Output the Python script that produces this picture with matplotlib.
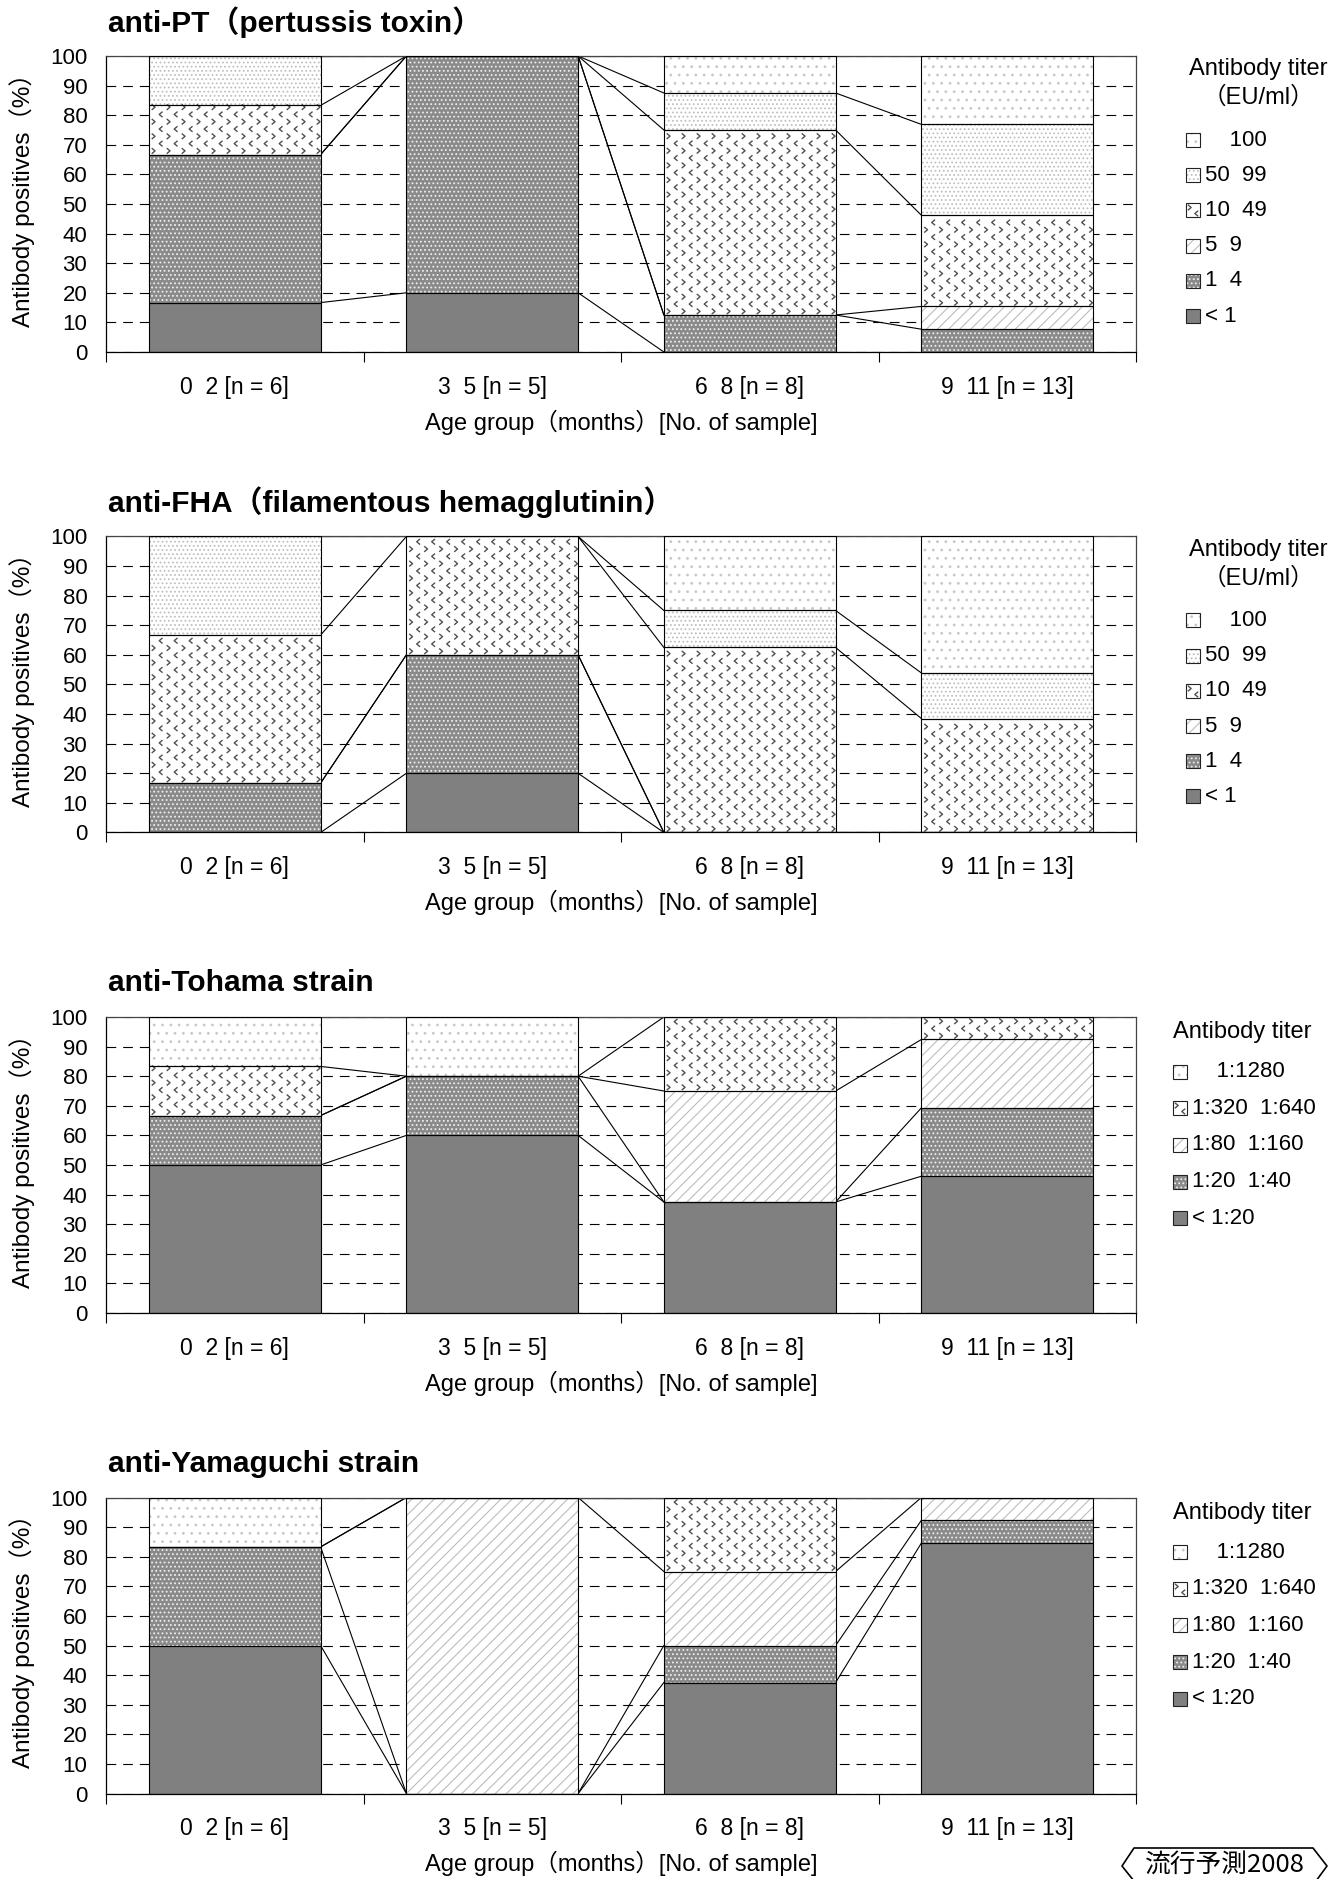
import numpy as np
import matplotlib
matplotlib.use('Agg')
import matplotlib.pyplot as plt
import matplotlib.transforms as mtransforms
from matplotlib.patches import Rectangle
from matplotlib.lines import Line2D
from matplotlib.path import Path

plt.rcParams['font.family'] = ['Liberation Sans', 'Noto Sans CJK JP']
plt.rcParams['hatch.linewidth'] = 0.8
plt.rcParams['lines.scale_dashes'] = False

W, H = 1344, 1879

age_groups = ['0  2 [n = 6]', '3  5 [n = 5]', '6  8 [n = 8]', '9  11 [n = 13]']

titles = ['anti-PT（pertussis toxin）',
          'anti-FHA（filamentous hemagglutinin）',
          'anti-Tohama strain',
          'anti-Yamaguchi strain']

# titer classes, lowest first
eu_levels = ['< 1', '1  4', '5  9', '10  49', '50  99', '    100']
agglutinin_levels = ['< 1:20', '1:20  1:40', '1:80  1:160', '1:320  1:640', '    1:1280']

# percent of samples in each class, one row per age group (lowest class first)
pt_pct = [[16.7, 50.0, 0, 16.6, 16.7, 0],
          [20.0, 80.0, 0, 0, 0, 0],
          [0, 12.5, 0, 62.5, 12.5, 12.5],
          [0, 7.7, 7.7, 30.8, 30.7, 23.1]]
fha_pct = [[0, 16.7, 0, 50.0, 33.3, 0],
           [20.0, 40.0, 0, 40.0, 0, 0],
           [0, 0, 0, 62.5, 12.5, 25.0],
           [0, 0, 0, 38.5, 15.4, 46.1]]
tohama_pct = [[50.0, 16.7, 0, 16.6, 16.7],
              [60.0, 20.0, 0, 0, 20.0],
              [37.5, 0, 37.5, 25.0, 0],
              [46.2, 23.1, 23.1, 7.6, 0]]
yamaguchi_pct = [[50.0, 33.3, 0, 0, 16.7],
                 [0, 0, 100.0, 0, 0],
                 [37.5, 12.5, 25.0, 25.0, 0],
                 [84.6, 7.7, 7.7, 0, 0]]

# fill styles, lowest class first
eu_styles = [
    {'face': '#808080', 'hatch': None, 'hc': 'none'},
    {'face': '#8a8a8a', 'hatch': '....', 'hc': '#eeeeee'},
    {'face': 'white', 'hatch': '///', 'hc': '#bdbdbd'},
    {'face': 'white', 'hatch': None, 'hc': 'none', 'chevron': True},
    {'face': 'white', 'hatch': '....', 'hc': '#c0c0c0'},
    {'face': 'white', 'hatch': '..', 'hc': '#c8c8c8'},
]
agg_styles = [eu_styles[0], eu_styles[1], eu_styles[2], eu_styles[3], eu_styles[5]]

chev_r = Path([(-0.6, 1.0), (0.6, 0.0), (-0.6, -1.0)])
chev_l = Path([(0.6, 1.0), (-0.6, 0.0), (0.6, -1.0)])
CHEV_COLOR = '#505050'

fig = plt.figure(figsize=(W / 100, H / 100), dpi=100)


def corner_trans(ax):
    # pixel offsets measured from the axes' top-right corner, y pointing down
    return mtransforms.Affine2D().scale(1, -1) + mtransforms.ScaledTranslation(1, 1, ax.transAxes)


def draw_panel(ax, title, pct, levels, styles, legend_title, leg):
    pct = np.array(pct, dtype=float)
    x = np.arange(len(age_groups))
    cum = np.cumsum(pct, axis=1)
    bottoms = cum - pct
    w = 0.667

    ax.set_axisbelow(True)
    ax.yaxis.grid(True, color='black', lw=0.8, ls=(0, (7, 5)))

    # series lines between neighbouring bars
    for i in range(len(x) - 1):
        for s in range(pct.shape[1]):
            ax.plot([x[i] + w / 2, x[i + 1] - w / 2], [cum[i, s], cum[i + 1, s]],
                    color='black', lw=0.8, zorder=1)

    dx = 15 / 257.5
    dy = 7.3 * 100 / 296
    for s, st in enumerate(styles):
        ax.bar(x, pct[:, s], w, bottom=bottoms[:, s], color=st['face'],
               hatch=st['hatch'], edgecolor=st['hc'], linewidth=0, zorder=2)
        if st.get('chevron'):
            pts = {0: ([], []), 1: ([], [])}
            for i in x:
                lo, hi = bottoms[i, s], cum[i, s]
                if hi - lo <= 0:
                    continue
                for r, yv in enumerate(np.arange(lo + dy * 0.5, hi - dy * 0.2, dy)):
                    start = i - w / 2 + dx * (0.3 if r % 2 == 0 else 0.8)
                    xs = np.arange(start, i + w / 2 - dx * 0.15, dx)
                    pts[r % 2][0].extend(xs)
                    pts[r % 2][1].extend([yv] * len(xs))
            for k, mk in ((0, chev_r), (1, chev_l)):
                ax.scatter(pts[k][0], pts[k][1], marker=mk, s=16, facecolors='none',
                           edgecolors=CHEV_COLOR, linewidths=1.0, zorder=2.5)
        ax.bar(x, pct[:, s], w, bottom=bottoms[:, s], fill=False,
               edgecolor='black', linewidth=0.8, zorder=3)

    ax.set_xlim(-0.5, len(x) - 0.5)
    ax.set_ylim(0, 100)
    ax.set_yticks(range(0, 101, 10))
    ax.set_xticks(x, age_groups)
    ax.set_xticks(np.arange(-0.5, len(x), 1), minor=True)
    ax.tick_params(axis='x', which='major', length=0, pad=17, labelsize=16.5)
    ax.tick_params(axis='x', which='minor', length=7, direction='out', width=0.8)
    ax.tick_params(axis='y', length=0, pad=13.5, labelsize=16)
    for side in ['left', 'bottom']:
        ax.spines[side].set_linewidth(0.9)
    for side in ['top', 'right']:
        ax.spines[side].set_color('#444444')
        ax.spines[side].set_linewidth(0.9)

    ax.set_xlabel('Age group（months）[No. of sample]', fontsize=17, labelpad=8)
    ax.set_ylabel('Antibody positives（%）', fontsize=17.5, va='center')
    ax.yaxis.set_label_coords(-0.081, 0.534)

    ax.text(0.002, 1, title, transform=ax.transAxes + mtransforms.ScaledTranslation(0, 0.34, fig.dpi_scale_trans),
            va='center', ha='left', fontsize=21.5, fontweight='bold')

    # legend, top class first
    T = corner_trans(ax)
    for line, ty in zip(legend_title, leg['title_y']):
        ax.text(leg['title_x'], ty, line, transform=T, ha='center', va='center',
                fontsize=17, clip_on=False)
    n = len(levels)
    for k in range(n):
        s = n - 1 - k
        st = styles[s]
        yc = leg['y0'] + leg['dy'] * k
        mx = leg['mx']
        ax.add_patch(Rectangle((mx - 7, yc - 7), 14, 14, transform=T, facecolor=st['face'],
                               hatch=st['hatch'], edgecolor=st['hc'], linewidth=0, clip_on=False))
        ax.add_patch(Rectangle((mx - 7, yc - 7), 14, 14, transform=T, fill=False,
                               edgecolor='#222222', linewidth=0.8, clip_on=False))
        if st.get('chevron'):
            ax.plot([mx - 4], [yc - 3], transform=T, marker=chev_r, ms=4, mfc='none',
                    mec=CHEV_COLOR, mew=1.0, ls='none', clip_on=False)
            ax.plot([mx + 3], [yc + 3], transform=T, marker=chev_l, ms=4, mfc='none',
                    mec=CHEV_COLOR, mew=1.0, ls='none', clip_on=False)
        ax.text(leg['tx'], yc, levels[s], transform=T, ha='left', va='center',
                fontsize=16, clip_on=False)


eu_leg = {'title_x': 122, 'title_y': [13.5, 42], 'y0': 84, 'dy': 35.2, 'mx': 57, 'tx': 69}
agg_leg = {'title_x': 106, 'title_y': [15], 'y0': 54.5, 'dy': 36.7, 'mx': 44, 'tx': 56}

panels = [
    (titles[0], pt_pct, eu_levels, eu_styles, ['Antibody titer', '（EU/ml）'], eu_leg),
    (titles[1], fha_pct, eu_levels, eu_styles, ['Antibody titer', '（EU/ml）'], eu_leg),
    (titles[2], tohama_pct, agglutinin_levels, agg_styles, ['Antibody titer'], agg_leg),
    (titles[3], yamaguchi_pct, agglutinin_levels, agg_styles, ['Antibody titer'], agg_leg),
]

for k, p in enumerate(panels):
    top = 56 + 480.5 * k
    ax = fig.add_axes([106 / W, 1 - (top + 296) / H, 1030 / W, 296 / H])
    draw_panel(ax, *p)

# report series badge in the corner
fig.text(1225 / W, 1 - 1865 / H, '流行予測2008', style='italic', fontsize=18.5,
         ha='center', va='center', family=['Noto Sans CJK JP', 'DejaVu Sans'])
bx = [1134, 1122, 1134, 1313, 1327, 1316]
by = [1881, 1866, 1848, 1848, 1866, 1881]
fig.add_artist(Line2D(bx, [H - v for v in by], transform=mtransforms.IdentityTransform(),
                      color='black', lw=1.2))

fig.savefig('out.png', dpi=100)
